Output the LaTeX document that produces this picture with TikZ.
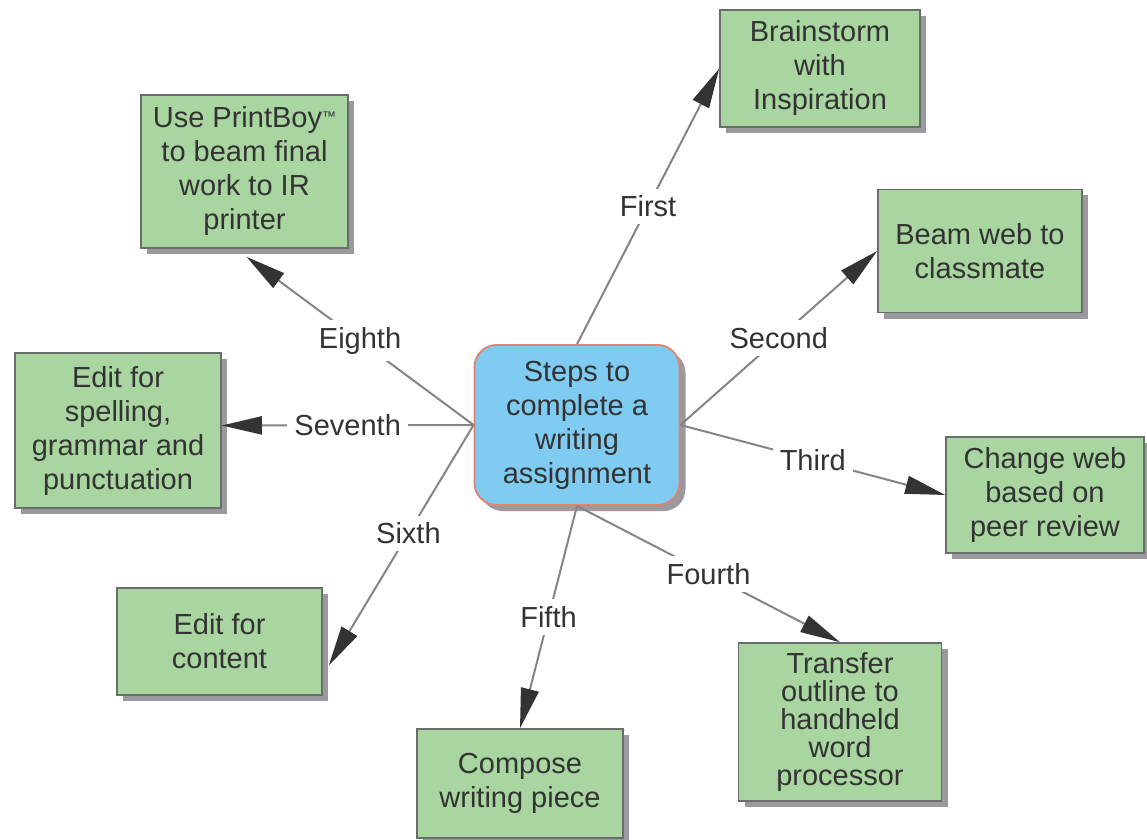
\documentclass[tikz,border=0pt]{standalone}
\usepackage{fontspec}
\setmainfont{Liberation Sans}
\usetikzlibrary{arrows.meta,shadows}

\definecolor{boxgreen}{HTML}{A8D5A0}
\definecolor{boxedge}{HTML}{6A6E6A}
\definecolor{hubblue}{HTML}{80CBF2}
\definecolor{hubedge}{HTML}{E08370}
\definecolor{shadowgray}{HTML}{9A9A9E}
\definecolor{linegray}{HTML}{858585}
\definecolor{tipdark}{HTML}{333333}
\definecolor{txt}{HTML}{333333}

\tikzset{
  stepbox/.style={draw=boxedge, fill=boxgreen, line width=0.8pt, inner sep=0pt,
    align=center, text=txt, font=\fontsize{14.5}{17}\selectfont,
    drop shadow={shadow xshift=3pt, shadow yshift=-3pt, fill=shadowgray, opacity=1}},
  hub/.style={draw=hubedge, fill=hubblue, line width=0.9pt, rounded corners=11pt,
    inner sep=0pt, align=center, text=txt, font=\fontsize{14.5}{17}\selectfont,
    drop shadow={shadow xshift=3pt, shadow yshift=-3pt, fill=shadowgray, opacity=1}},
  link/.style={draw=linegray, line width=1pt,
    -{Triangle[length=20pt, width=9pt, color=tipdark]}},
  steplabel/.style={fill=white, inner sep=3.5pt, text=txt,
    font=\fontsize{14.5}{17}\selectfont}
}

\begin{document}
\begin{tikzpicture}[x=0.5pt, y=-0.5pt]
  \fill[white] (0,0) rectangle (1147,840);
  \useasboundingbox (0,0) rectangle (1147,840);

  % central topic
  \node[hub, minimum width=102.5pt, minimum height=80pt] (c) at (577,425)
    {Steps to\\complete a\\writing\\assignment};

  % the eight steps
  \node[stepbox, minimum width=100pt, minimum height=58.5pt] (b1) at (820,68.5)
    {Brainstorm\\with\\Inspiration};
  \node[stepbox, minimum width=102pt, minimum height=61.5pt] (b2) at (980,251)
    {Beam web to\\classmate};
  \node[stepbox, minimum width=99pt, minimum height=58pt] (b3) at (1045,495)
    {Change web\\based on\\peer review};
  \node[stepbox, minimum width=101.5pt, minimum height=79pt,
        font=\fontsize{14.5}{14}\selectfont] (b4) at (840,722)
    {Transfer\\outline to\\handheld\\word\\processor};
  \node[stepbox, minimum width=103pt, minimum height=54.5pt] (b5) at (520,783.5)
    {Compose\\writing piece};
  \node[stepbox, minimum width=102.5pt, minimum height=53.5pt] (b6) at (219.5,641.5)
    {Edit for\\content};
  \node[stepbox, minimum width=103pt, minimum height=77.5pt] (b7) at (118,430.5)
    {Edit for\\spelling,\\grammar and\\punctuation};
  \node[stepbox, minimum width=103.5pt, minimum height=76.5pt] (b8) at (244.5,171.5)
    {Use PrintBoy\raisebox{3pt}{\fontsize{7}{7}\selectfont ™}\\to beam final\\work to IR\\printer};

  % connectors with their order labels
  \draw[link] (c.north) -- node[steplabel] {First}   (b1.west);
  \draw[link] (c.east)  -- node[steplabel] {Second}  (b2.west);
  \draw[link] (c.east)  -- node[steplabel] {Third}   (b3.west);
  \draw[link] (c.south) -- node[steplabel] {Fourth}  (b4.north);
  \draw[link] (c.south) -- node[steplabel] {Fifth}   (b5.north);
  \draw[link] (c.west)  -- node[steplabel, pos=0.45] {Sixth} ([shift={(6,24)}]b6.east);
  \draw[link] (c.west)  -- node[steplabel] {Seventh} ([yshift=2.5pt]b7.east);
  \draw[link] (c.west)  -- node[steplabel] {Eighth}  ([shift={(2,8)}]b8.south);
\end{tikzpicture}
\end{document}
